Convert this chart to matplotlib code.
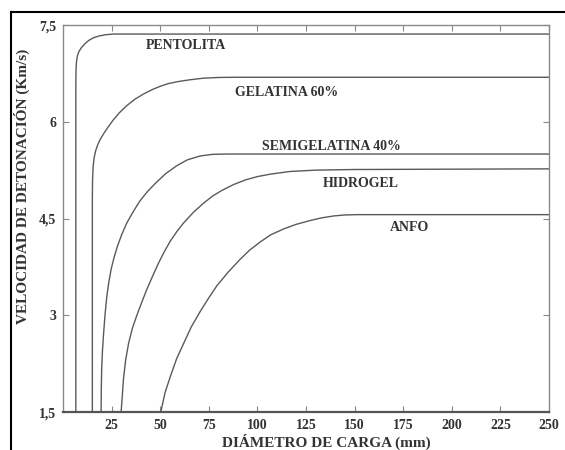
import matplotlib
matplotlib.use("Agg")
import matplotlib.pyplot as plt
from matplotlib.lines import Line2D

# velocidad de detonación (km/s) frente a diámetro de carga (mm)
pentolita_x = [6.6, 6.6, 6.7, 6.9, 7.4, 8.2, 9.5, 11.3, 13.2, 15.5, 18.5, 22.0, 26.0, 250.0]
pentolita_y = [1.5, 6.55, 6.8, 6.92, 7.02, 7.09, 7.15, 7.21, 7.26, 7.30, 7.33, 7.35, 7.36, 7.36]

gelatina_x = [15.1, 15.1, 15.2, 15.5, 16.0, 16.8, 17.8, 19.2, 20.8, 23.0, 25.9, 29.0, 32.8, 37.0,
              41.4, 46.0, 50.0, 54.0, 58.6, 65.0, 72.0, 80.0, 90.0, 250.0]
gelatina_y = [1.5, 4.8, 5.1, 5.3, 5.44, 5.55, 5.64, 5.73, 5.81, 5.91, 6.03, 6.14, 6.25, 6.35,
              6.43, 6.50, 6.55, 6.59, 6.62, 6.65, 6.675, 6.687, 6.69, 6.69]

semigel_x = [19.6, 19.7, 19.9, 20.3, 20.8, 21.6, 22.5, 23.5, 24.8, 26.3, 28.0, 30.2, 32.8, 36.0,
             39.5, 43.5, 48.0, 53.0, 58.6, 64.0, 70.6, 77.0, 85.0, 250.0]
semigel_y = [1.5, 1.85, 2.17, 2.45, 2.68, 3.0, 3.28, 3.5, 3.72, 3.9, 4.07, 4.25, 4.43, 4.6,
             4.77, 4.92, 5.06, 5.2, 5.32, 5.41, 5.47, 5.495, 5.5, 5.5]

hidrogel_x = [29.9, 30.5, 31.1, 32.2, 33.7, 35.7, 38.0, 40.5, 43.1, 46.0, 49.0, 52.0, 55.2, 58.6,
              62.0, 67.2, 72.0, 77.0, 82.0, 88.0, 94.0, 100.0, 107.0, 117.0, 130.0, 150.0, 250.0]
hidrogel_y = [1.5, 1.75, 2.01, 2.3, 2.56, 2.8, 3.0, 3.2, 3.4, 3.6, 3.8, 3.98, 4.15, 4.3,
              4.43, 4.6, 4.73, 4.85, 4.94, 5.03, 5.1, 5.15, 5.19, 5.23, 5.25, 5.26, 5.27]

anfo_x = [50.3, 52.5, 55.2, 58.5, 62.0, 66.0, 70.6, 75.0, 79.2, 85.0, 91.2, 96.0, 101.6, 107.0,
          113.6, 120.0, 127.3, 133.0, 139.3, 145.0, 151.0, 250.0]
anfo_y = [1.5, 1.8, 2.05, 2.33, 2.56, 2.82, 3.06, 3.27, 3.46, 3.67, 3.87, 4.01, 4.14, 4.25,
          4.34, 4.41, 4.47, 4.51, 4.54, 4.555, 4.56, 4.56]

labels = ["PENTOLITA", "GELATINA 60%", "SEMIGELATINA 40%", "HIDROGEL", "ANFO"]
label_x = [63, 115, 138, 153, 178]
label_y = [7.19, 6.45, 5.61, 5.04, 4.36]

x_ticks = [25, 50, 75, 100, 125, 150, 175, 200, 225, 250]
y_ticks = [1.5, 3, 4.5, 6, 7.5]
y_ticklabels = ["1,5", "3", "4,5", "6", "7,5"]

serif = {"family": "Liberation Serif", "weight": "bold"}
grey = "#5a5a5a"

fig = plt.figure(figsize=(5.65, 4.5), dpi=100)
ax = fig.add_axes([0.1115, 0.0844, 0.8602, 0.86])

series = [(pentolita_x, pentolita_y), (gelatina_x, gelatina_y), (semigel_x, semigel_y),
          (hidrogel_x, hidrogel_y), (anfo_x, anfo_y)]
for xs, ys in series:
    ax.plot(xs, ys, color=grey, lw=1.0)

for name, lx, ly in zip(labels, label_x, label_y):
    ax.text(lx, ly, name, ha="center", va="center", fontsize=10, color="#333333", **serif)

ax.set_xlim(0, 250)
ax.set_ylim(1.5, 7.5)
ax.set_xticks(x_ticks)
ax.set_xticklabels([str(t) for t in x_ticks], fontsize=10, color="#333333", **serif)
ax.set_yticks(y_ticks)
ax.set_yticklabels(y_ticklabels, fontsize=10, color="#333333", **serif)
ax.tick_params(direction="in", length=4, top=True, right=True, color="#888888", pad=5)
for sp in ax.spines.values():
    sp.set_color("#8a8a8a")
    sp.set_linewidth(1.0)
ax.spines["bottom"].set_color("#555555")
ax.spines["bottom"].set_linewidth(1.6)

fig.text(0.039, 0.585, "VELOCIDAD DE DETONACIÓN (Km/s)", rotation=90, ha="center", va="center",
         fontsize=11, color="#333333", **serif)
fig.text(0.578, 0.018, "DIÁMETRO DE CARGA (mm)", ha="center", va="center",
         fontsize=11, color="#333333", **serif)

# marco exterior
fig.add_artist(Line2D([0.0195, 0.0195], [0.0, 0.9733], transform=fig.transFigure, color="black", lw=1.5))
fig.add_artist(Line2D([0.0195, 1.0], [0.9733, 0.9733], transform=fig.transFigure, color="black", lw=1.5))

fig.savefig("out.png", dpi=100)
